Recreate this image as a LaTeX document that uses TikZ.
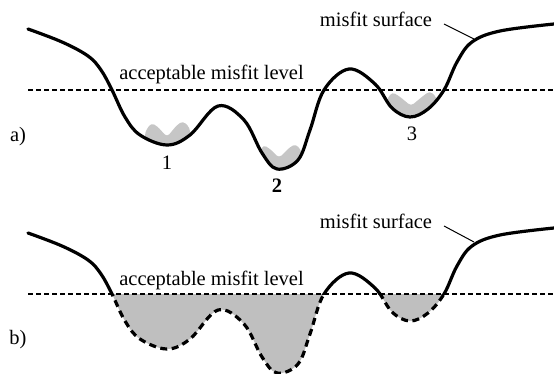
\documentclass[tikz,border=0pt]{standalone}
\usepackage{fontspec}
\setmainfont{Liberation Serif}
\begin{document}
\begin{tikzpicture}[x=1pt,y=-1pt,
  curve/.style={line width=3.2pt,line join=round,line cap=round},
  levelline/.style={line width=2.4pt,dash pattern=on 5pt off 3pt},
  blob/.style={fill=gray!45,rounded corners=3.5pt},
  lbl/.style={font=\fontsize{20.5}{24}\selectfont,inner sep=0pt},
  leader/.style={line width=1pt}]
\useasboundingbox (0,0) rectangle (554,374);
\def\curvepath{plot[smooth,tension=0.6] coordinates{(28,29) (62,42) (88,56) (101,70) (112,90) (125,117) (140,135) (167,145) (190,135) (218,106) (244,120) (262,153) (277,169) (298,160) (310,130) (324,90) (349,69) (375,84) (392,108) (410,117) (428,109) (444,90) (457,62) (472,42) (500,31) (554,24)}}
% ---------- a)
\begin{scope}
  \clip \curvepath -- (554,-10) -- (28,-10) -- cycle;
  \path[blob] (145,132) -- (151,123) -- (157,126) -- (167,137) -- (177,125) -- (183,121) -- (190,128) -- (190,155) -- (145,155) -- cycle;
  \path[blob] (258,156) -- (263,145) -- (269,148) -- (279,158) -- (290,147) -- (296,144) -- (302,152) -- (302,180) -- (258,180) -- cycle;
  \path[blob] (386,101) -- (392,92) -- (399,96) -- (411,106) -- (423,96) -- (430,91) -- (437,98) -- (437,125) -- (386,125) -- cycle;
\end{scope}
\draw[curve] \curvepath;
\coordinate (la1) at (28,90); \coordinate (la2) at (554,90);
\draw[levelline] (la1) -- (la2);
\node[lbl,anchor=base] (acca) at (211.5,80) {acceptable misfit level};
\node[lbl,anchor=base] (msa) at (376,27) {misfit surface};
\coordinate (pa1) at (444,24); \coordinate (pa2) at (474,39);
\draw[leader] (pa1) -- (pa2);
\node[lbl] (a) at (18,137) {a)};
\node[lbl] (n1) at (167,163) {1};
\node[lbl] (n2) at (277,186) {\textbf{2}};
\node[lbl] (n3) at (412,134) {3};
% ---------- b)
\begin{scope}[shift={(0,204)}]
  \begin{scope}
    \clip (0,90) rectangle (560,200);
    \fill[gray!50] \curvepath -- (554,-20) -- (28,-20) -- cycle;
    \draw[curve,line cap=butt,dash pattern=on 7pt off 4.5pt] \curvepath;
  \end{scope}
  \begin{scope}
    \clip (0,-20) rectangle (560,90);
    \draw[curve] \curvepath;
  \end{scope}
  \coordinate (lb1) at (28,90); \coordinate (lb2) at (554,90);
  \draw[levelline] (lb1) -- (lb2);
  \node[lbl,anchor=base] (accb) at (211.5,81) {acceptable misfit level};
  \node[lbl,anchor=base] (msb) at (376,25) {misfit surface};
  \coordinate (pb1) at (444,22); \coordinate (pb2) at (474,38);
  \draw[leader] (pb1) -- (pb2);
  \node[lbl] (b) at (18,136) {b)};
\end{scope}
\end{tikzpicture}
\end{document}
